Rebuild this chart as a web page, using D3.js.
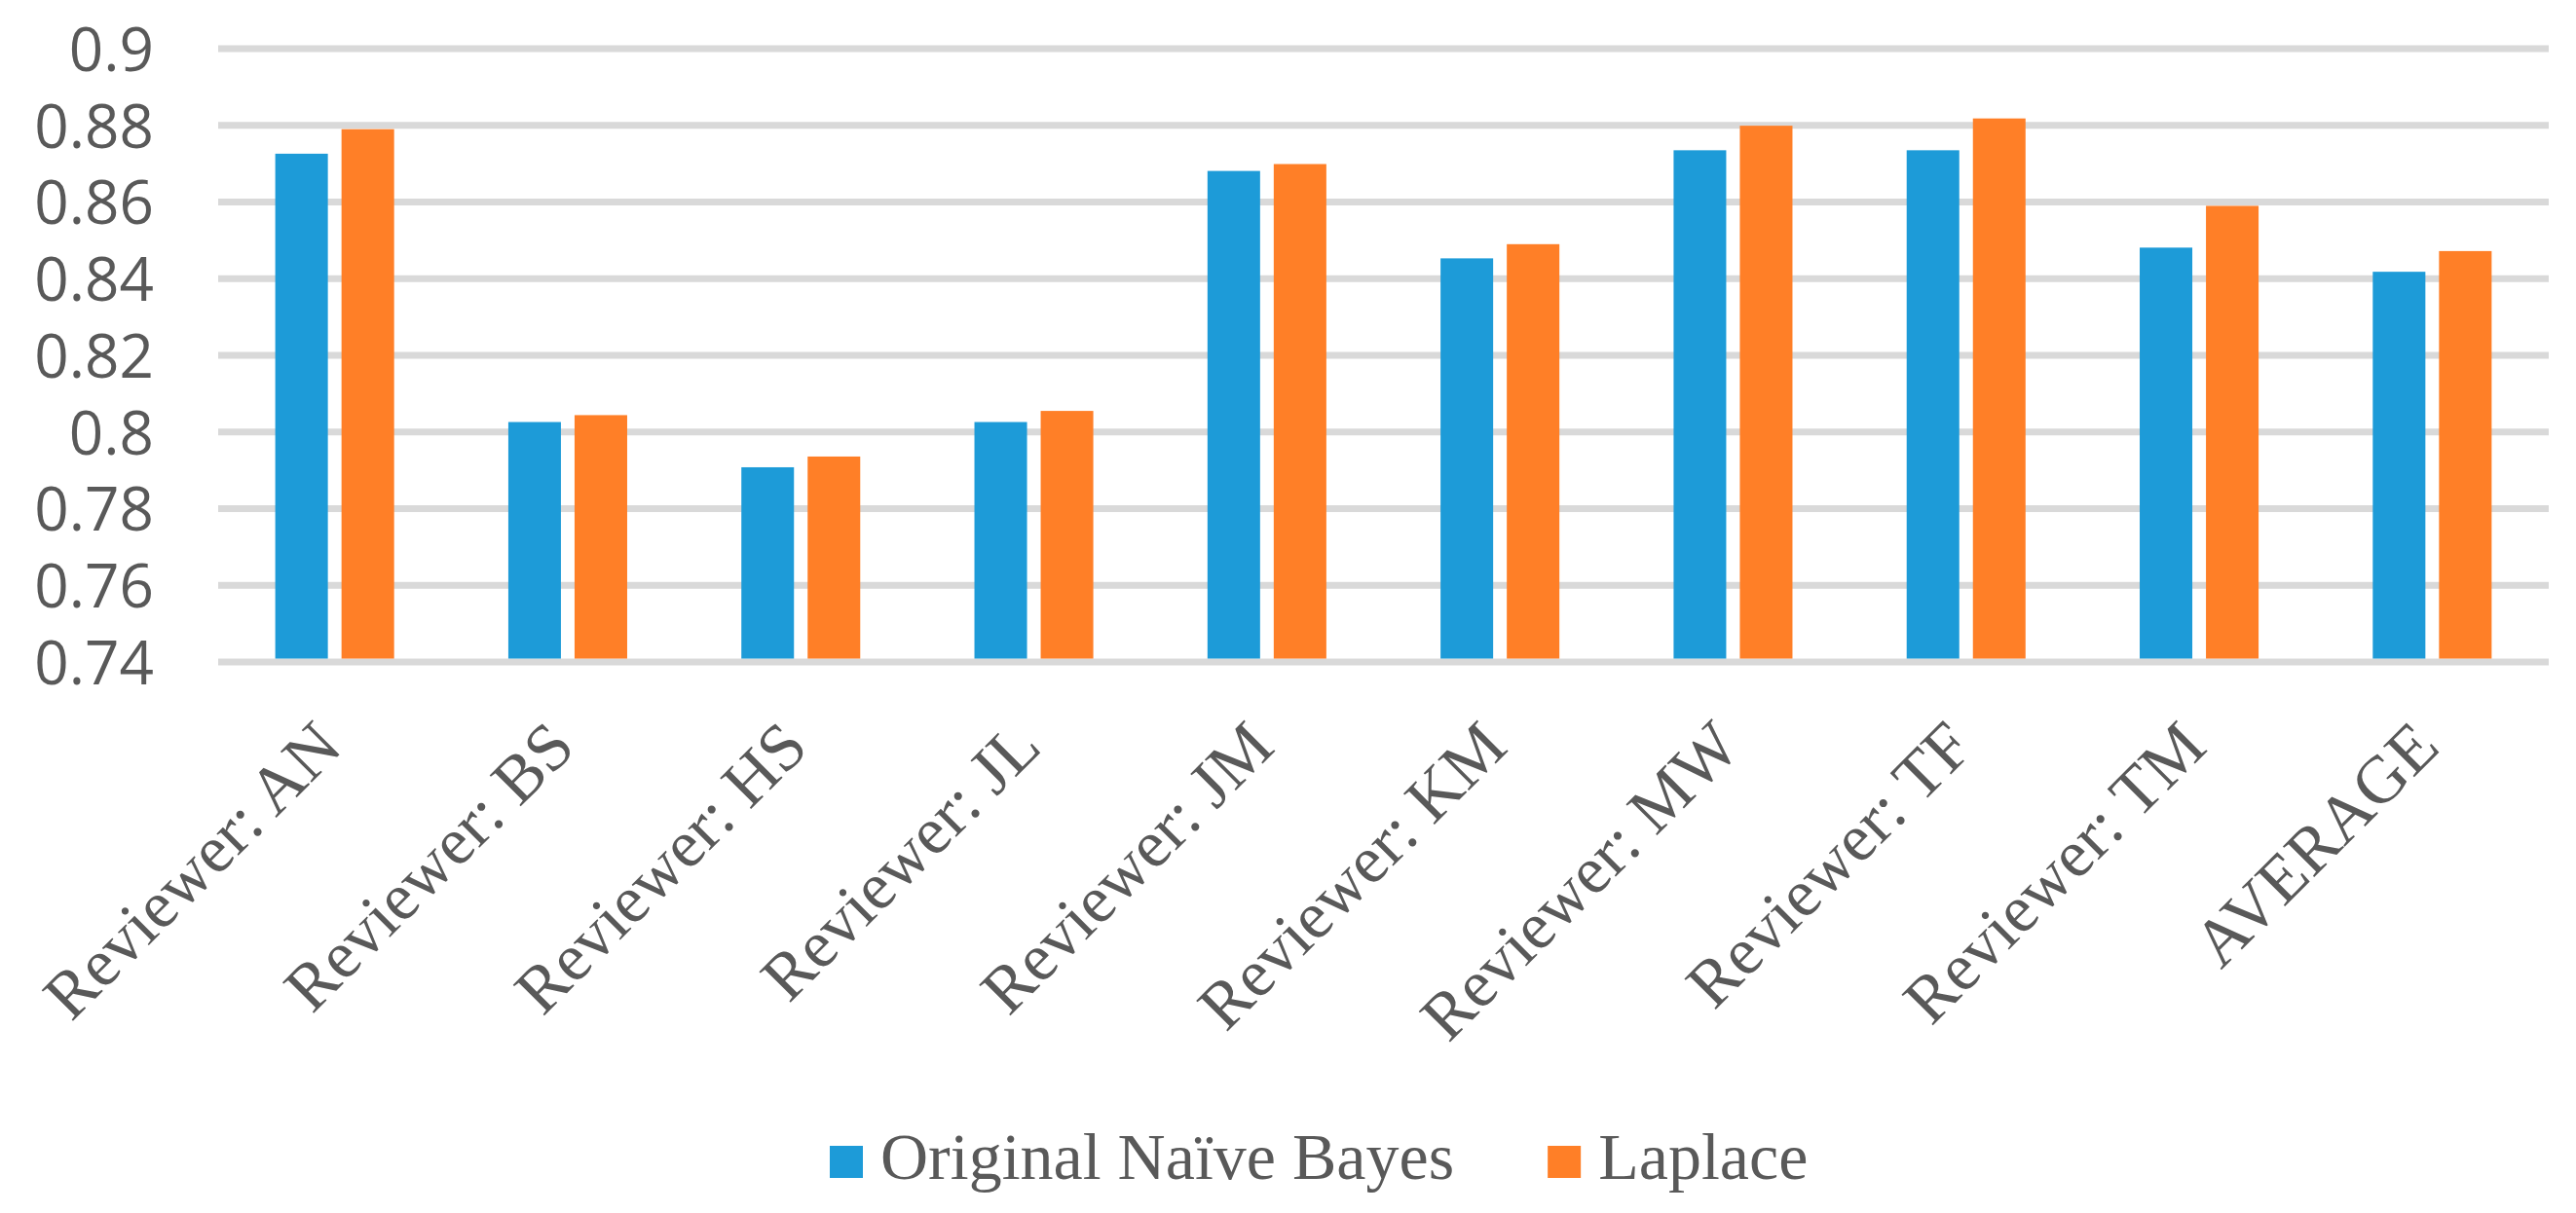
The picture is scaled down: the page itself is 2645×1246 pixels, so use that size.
<!DOCTYPE html>
<html>
<head>
<meta charset="utf-8">
<script src="https://cdn.jsdelivr.net/npm/d3@7/dist/d3.min.js"></script>
<style>
  html, body { margin: 0; padding: 0; background: #ffffff; }
  svg { display: block; }
</style>
</head>
<body>
<svg id="chart" width="2645" height="1246"></svg>
<script>
// ---- data ----
const categories = ["Reviewer: AN", "Reviewer: BS", "Reviewer: HS", "Reviewer: JL", "Reviewer: JM",
                    "Reviewer: KM", "Reviewer: MW", "Reviewer: TF", "Reviewer: TM", "AVERAGE"];
const seriesNames = ["Original Naïve Bayes", "Laplace"];
const naiveBayes = [0.8726, 0.8026, 0.7908, 0.8026, 0.8681, 0.8453, 0.8735, 0.8735, 0.8481, 0.8418];
const laplace    = [0.8790, 0.8044, 0.7936, 0.8055, 0.8699, 0.8490, 0.8799, 0.8818, 0.8590, 0.8472];
const yTicks = [0.74, 0.76, 0.78, 0.80, 0.82, 0.84, 0.86, 0.88, 0.90];
const yTickLabels = ["0.74", "0.76", "0.78", "0.8", "0.82", "0.84", "0.86", "0.88", "0.9"];

// ---- layout ----
const colors = ["#1d9bd8", "#ff7f27"];
const plotLeft = 224, plotRight = 2617, plotTop = 50, plotBottom = 680;
const svg = d3.select("#chart");
svg.append("rect").attr("width", 2645).attr("height", 1246).attr("fill", "#fff");

const x = d3.scaleBand().domain(categories).range([plotLeft, plotRight])
  .paddingInner(0.49).paddingOuter(0.245);
const xs = d3.scaleBand().domain(seriesNames).range([0, x.bandwidth()])
  .paddingInner(0.206).paddingOuter(0);
const y = d3.scaleLinear().domain([0.74, 0.90]).range([plotBottom, plotTop]);

// gridlines
svg.append("g").selectAll("line").data(yTicks).join("line")
  .attr("x1", plotLeft).attr("x2", plotRight)
  .attr("y1", d => y(d)).attr("y2", d => y(d))
  .attr("stroke", "#d9d9d9").attr("stroke-width", 7);

// y tick labels
const yAxis = d3.axisLeft(y).tickValues(yTicks)
  .tickFormat((d, i) => yTickLabels[i]).tickSize(0).tickPadding(0);
const gy = svg.append("g").attr("transform", `translate(158,0)`).call(yAxis);
gy.select(".domain").remove();
gy.selectAll("text")
  .attr("font-family", "'Open Sans', 'Liberation Sans', Arial, sans-serif")
  .attr("font-size", 62).attr("fill", "#595959").attr("dy", "0.36em");

// bars
const rows = categories.map((c, i) => ({ cat: c, vals: [naiveBayes[i], laplace[i]] }));
const groups = svg.append("g").selectAll("g").data(rows).join("g")
  .attr("transform", d => `translate(${x(d.cat)},0)`);
groups.selectAll("rect").data(d => d.vals.map((v, j) => ({ s: seriesNames[j], v, j })))
  .join("rect")
  .attr("x", d => xs(d.s))
  .attr("width", xs.bandwidth())
  .attr("y", d => y(d.v))
  .attr("height", d => y(0.74) - 3.5 - y(d.v))
  .attr("fill", d => colors[d.j]);

// x labels
const xAxis = d3.axisBottom(x).tickSize(0).tickPadding(0);
const gx = svg.append("g").attr("transform", `translate(0,770)`).call(xAxis);
gx.select(".domain").remove();
gx.selectAll(".tick text")
  .attr("font-family", "'Liberation Serif', 'Times New Roman', serif")
  .attr("font-size", 69).attr("fill", "#595959")
  .attr("text-anchor", "end").attr("dy", 0).attr("y", 0)
  .attr("transform", "translate(10,0) rotate(-45)");

// legend
const legend = svg.append("g").attr("transform", "translate(852,0)");
let lx = 0;
seriesNames.forEach((name, i) => {
  const g = legend.append("g").attr("transform", `translate(${lx},0)`);
  g.append("rect").attr("x", 0).attr("y", 1177).attr("width", 34).attr("height", 33).attr("fill", colors[i]);
  const t = g.append("text").attr("x", 52).attr("y", 1211)
    .attr("font-family", "'Liberation Serif', 'Times New Roman', serif")
    .attr("font-size", 68).attr("fill", "#595959").text(name);
  lx += 52 + t.node().getComputedTextLength() + 96;
});
</script>
</body>
</html>
